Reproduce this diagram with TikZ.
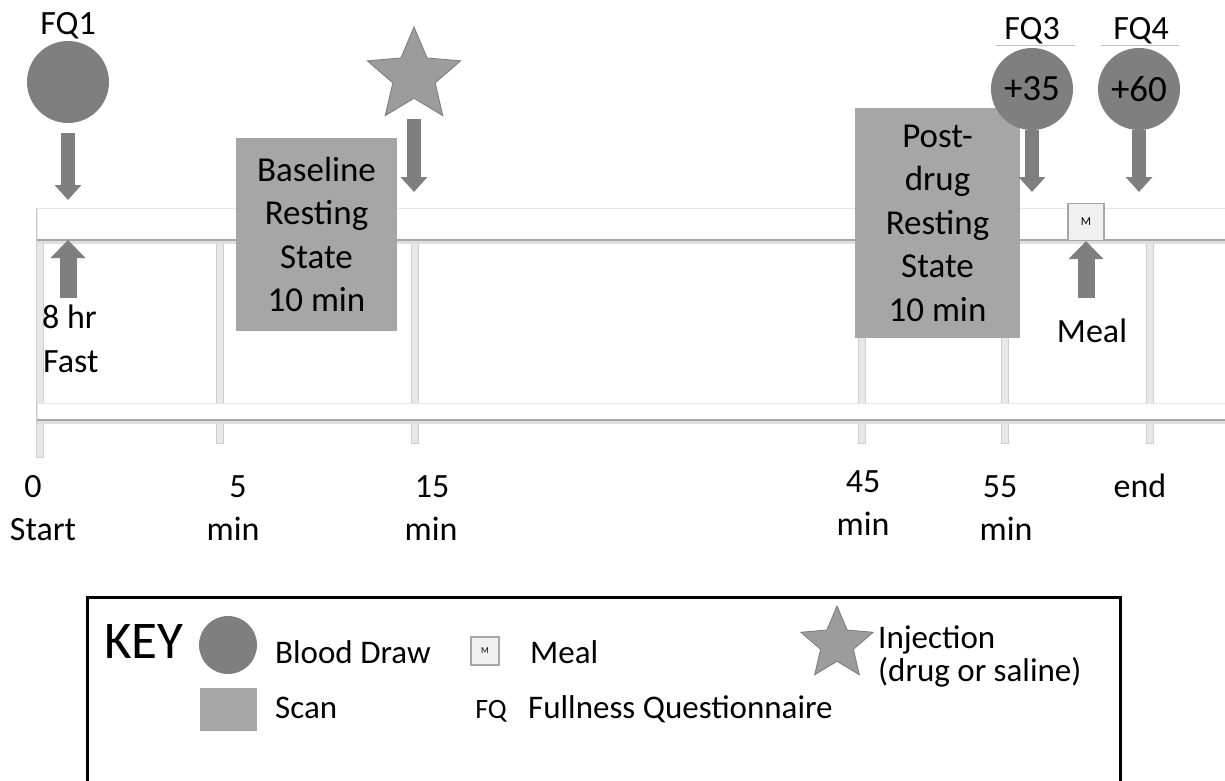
\documentclass[tikz,border=0pt]{standalone}
\usepackage{fontspec}
\setmainfont{Carlito}
\usetikzlibrary{arrows.meta,shapes.geometric}
\definecolor{drawgray}{HTML}{7F7F7F}
\definecolor{scangray}{HTML}{A6A6A6}
\definecolor{stargray}{HTML}{9C9C9C}
\definecolor{staredge}{HTML}{7A7A7A}
\definecolor{tickgray}{HTML}{E8E8E8}
\definecolor{tickedge}{HTML}{CDCDCD}
\newcommand{\txtsize}[2]{\fontsize{#1}{#2}\selectfont}
\tikzset{
  blood/.style={circle,fill=drawgray,minimum size=82pt,inner sep=0pt},
  scanbox/.style={fill=scangray,align=center,inner sep=0pt,font=\txtsize{35}{43.5}},
  lbl/.style={font=\txtsize{34}{43},inner sep=0pt,anchor=base},
  keytxt/.style={font=\txtsize{33}{40},inner sep=0pt,anchor=base west},
  downarrow/.style={drawgray,line width=14pt,-{Triangle[width=26pt,length=15pt]}},
  uparrow/.style={drawgray,line width=17pt,-{Triangle[width=34pt,length=18pt]}},
  mealbox/.style={draw=gray!70,fill=gray!12,line width=1.2pt,inner sep=0pt},
  injection/.style={star,star points=5,star point ratio=2.2,fill=stargray,draw=staredge,line width=0.8pt,inner sep=0pt},
  tickline/.style={draw=tickedge,fill=tickgray,line width=0.8pt},
}
\begin{document}
\begin{tikzpicture}[x=1pt,y=-1pt]
  \fill[white] (0,0) rectangle (1225,781);
  \useasboundingbox (0,0) rectangle (1225,781);
  % Ticks
  \filldraw[tickline] (36,208) rectangle (43,457);
  \foreach \x in {220,415,862,1005,1150}
    \filldraw[tickline] (\x-3.5,240) rectangle (\x+3.5,443);
  % Bands
  \fill[white] (37,208) rectangle (1225,240);
  \draw[gray!20] (37,240) -- (37,208) -- (1225,208);
  \draw[gray!25,line width=3pt] (37,242.5) -- (1225,242.5);
  \draw[gray!70,line width=1.5pt] (37,240) -- (1225,240);
  \fill[white] (37,403) rectangle (1225,420);
  \draw[gray!20] (37,420) -- (37,403) -- (1225,403);
  \draw[gray!25,line width=3pt] (37,422.5) -- (1225,422.5);
  \draw[gray!70,line width=1.5pt] (37,420) -- (1225,420);
  % Scans
  \node[scanbox,minimum width=161pt,minimum height=193pt] (basescan) at (316.5,234.5) {Baseline\\Resting\\State\\10 min};
  \node[scanbox,minimum width=165pt,minimum height=230pt] (postscan) at (937.5,223) {Post-\\drug\\Resting\\State\\10 min};
  % Blood draws
  \node[blood] (fqa) at (68,82) {};
  \node[blood,font=\txtsize{37}{37}] (fqc) at (1032,89) {+35};
  \node[blood,font=\txtsize{37}{37}] (fqd) at (1139,89) {+60};
  \node[lbl] (fqalbl) at (68,35) {FQ1};
  \node[lbl] (fqclbl) at (1032,40) {FQ3};
  \node[lbl] (fqdlbl) at (1141,40) {FQ4};
  \draw[gray!50,line width=0.8pt] (996,45) -- (1075,45);
  \draw[gray!50,line width=0.8pt] (1101,45) -- (1179,45);
  % Injection
  \node[injection,minimum size=98pt] (inj) at (414,76) {};
  % Meal
  \node[mealbox,minimum width=36pt,minimum height=37pt,font=\txtsize{12}{12}] (meal) at (1086,222) {M};
  \node[lbl] (mealtxt) at (1092,342) {Meal};
  \node[lbl,anchor=base west] (fasttxt) at (42,328) {8 hr};
  \node[lbl,anchor=base west] (fasttxtb) at (43,372) {Fast};
  % Arrows
  \coordinate (fqa tip) at (68,200);
  \coordinate (inj tip) at (414,192);
  \coordinate (fqc tip) at (1032,192);
  \coordinate (fqd tip) at (1139,192);
  \coordinate (fast foot) at (68,298);
  \coordinate (fast tip) at (68,240);
  \coordinate (meal foot) at (1086,298);
  \draw[downarrow,shorten <=10pt] (fqa) -- (fqa tip);
  \draw[downarrow,shorten <=20pt] (inj) -- (inj tip);
  \draw[downarrow] (fqc) -- (fqc tip);
  \draw[downarrow] (fqd) -- (fqd tip);
  \draw[uparrow] (fast foot) -- (fast tip);
  \draw[uparrow] (meal foot) -- (meal);
  % Tick labels
  \node[lbl] (t0) at (33,497) {0};
  \node[lbl] (t0b) at (43,540) {Start};
  \node[lbl] (t5) at (238,497) {5};
  \node[lbl] (t5b) at (233,540) {min};
  \node[lbl] (t15) at (432,497) {15};
  \node[lbl] (t15b) at (431,540) {min};
  \node[lbl] (t45) at (863,492) {45};
  \node[lbl] (t45b) at (863,535) {min};
  \node[lbl] (t55) at (1000,497) {55};
  \node[lbl] (t55b) at (1006,540) {min};
  \node[lbl] (tend) at (1140,497) {end};
  % Key
  \draw[line width=3pt] (87,790) -- (87,597) -- (1120,597) -- (1120,790);
  \node[keytxt,font=\txtsize{53}{53}] (keytitle) at (104,658) {KEY};
  \node[blood,minimum size=58pt] (keyblood) at (228,645) {};
  \node[fill=scangray,minimum width=57pt,minimum height=43pt,inner sep=0pt] (keyscan) at (228,709.5) {};
  \node[keytxt] (keybloodtxt) at (275,663) {Blood Draw};
  \node[keytxt] (keyscantxt) at (275,718) {Scan};
  \node[mealbox,minimum width=28pt,minimum height=28pt,font=\txtsize{9}{9}] (keymeal) at (485,651) {M};
  \node[keytxt] (keymealtxt) at (530,663) {Meal};
  \node[keytxt,anchor=base,font=\txtsize{28}{28}] (keyfq) at (491,718) {FQ};
  \node[keytxt] (keyfqtxt) at (528,718) {Fullness Questionnaire};
  \node[injection,minimum size=76pt] (keyinj) at (837,644) {};
  \node[keytxt] (keyinjtxt) at (878,648) {Injection};
  \node[keytxt] (keyinjtxtb) at (878,681) {(drug or saline)};
\end{tikzpicture}
\end{document}
